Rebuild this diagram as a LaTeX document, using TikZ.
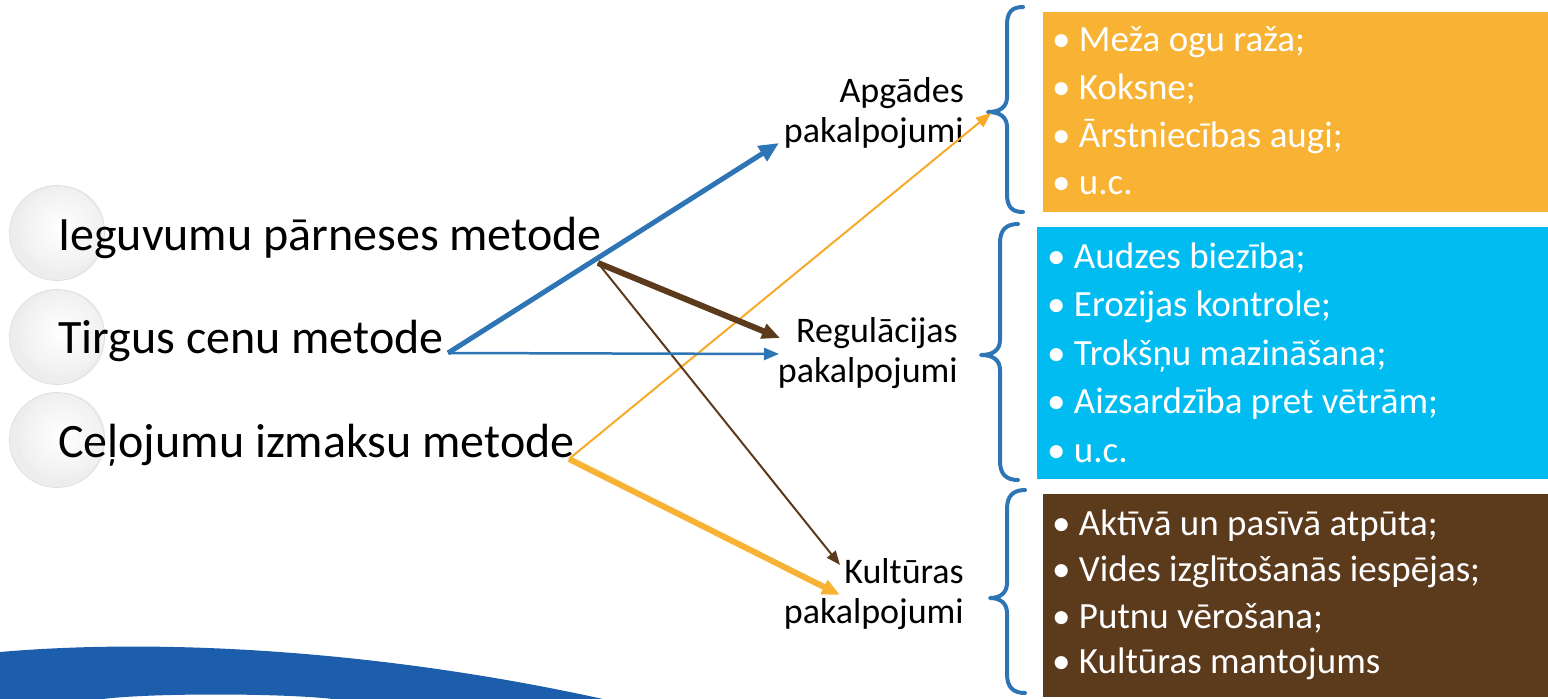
\documentclass[tikz,border=0pt]{standalone}
\usepackage{fontspec}
\setmainfont{Carlito}
\usetikzlibrary{arrows.meta}
\definecolor{arrblue}{RGB}{46,117,182}
\definecolor{bandblue}{RGB}{28,94,171}
\definecolor{boxorange}{RGB}{248,178,52}
\definecolor{lineorange}{RGB}{247,170,40}
\definecolor{boxcyan}{RGB}{0,188,240}
\definecolor{boxbrown}{RGB}{92,58,28}
\begin{document}
\begin{tikzpicture}[x=1pt,y=-1pt,
  lefttext/.style={anchor=base west, inner sep=0, font=\fontsize{48}{56}\selectfont},
  lbl/.style={anchor=base east, inner sep=0, font=\fontsize{36}{40}\selectfont},
  item/.style={anchor=base west, inner sep=0, text=white, font=\fontsize{37}{44}\selectfont},
  listbox/.style={anchor=north west, inner sep=0, draw=none},
  bracestyle/.style={draw=arrblue, line width=4pt, line cap=round, line join=round},
  bluethick/.style={draw=arrblue, line width=5pt, -{Triangle[length=20pt,width=17pt]}},
  bluethin/.style={draw=arrblue, line width=2.5pt, -{Triangle[length=15pt,width=12pt]}},
  brownthick/.style={draw=boxbrown, line width=6pt, -{Triangle[length=18pt,width=15pt]}},
  brownthin/.style={draw=boxbrown, line width=2pt, -{Triangle[length=14pt,width=11pt]}},
  orangethin/.style={draw=lineorange, line width=2pt, -{Triangle[length=15pt,width=12pt]}},
  orangethick/.style={draw=boxorange, line width=6pt, -{Triangle[length=18pt,width=15pt]}}
]
\useasboundingbox (0,0) rectangle (1548,699);

% bottom band
\fill[bandblue] (0,652) .. controls (160,638) and (380,650) .. (603,699)
  -- (333,699) .. controls (280,693) and (150,693) .. (103,699) -- (0,699) -- cycle;

% spheres
\foreach \cy in {233,337,440} {
  \fill[gray!14] (57,\cy) circle (47.5);
  \shade[inner color=white, outer color=gray!12] (62,\cy-4) circle (43);
  \draw[gray!25, line width=0.8pt] (57,\cy) circle (47.5);
}

% method texts
\node[lefttext] (m1) at (58,250) {Ieguvumu pārneses metode};
\node[lefttext] (m2) at (58,353) {Tirgus cenu metode};
\node[lefttext] (m3) at (58,457) {Ceļojumu izmaksu metode};

% service labels
\node[lbl] (a1) at (964,102) {Apgādes};
\node[lbl] (a2) at (964,142) {pakalpojumi};
\node[lbl] (r1) at (958,342) {Regulācijas};
\node[lbl] (r2) at (958,382) {pakalpojumi};
\node[lbl] (k1) at (964,583) {Kultūras};
\node[lbl] (k2) at (964,623) {pakalpojumi};

% boxes
\node[listbox, fill=boxorange, minimum width=505pt, minimum height=200pt] (boxA) at (1043,12) {};
\node[listbox, fill=boxcyan, minimum width=511pt, minimum height=252pt] (boxR) at (1037,227) {};
\node[listbox, fill=boxbrown, minimum width=505pt, minimum height=203pt] (boxK) at (1043,494) {};

% items
\node[item] (oa1) at (1052,51) {\textbullet\ Meža ogu raža;};
\node[item] (oa2) at (1052,99) {\textbullet\ Koksne;};
\node[item] (oa3) at (1052,147) {\textbullet\ Ārstniecības augi;};
\node[item] (oa4) at (1052,194) {\textbullet\ u.c.};

\node[item] (or1) at (1047,268) {\textbullet\ Audzes biezība;};
\node[item] (or2) at (1047,316) {\textbullet\ Erozijas kontrole;};
\node[item] (or3) at (1047,365) {\textbullet\ Trokšņu mazināšana;};
\node[item] (or4) at (1047,413) {\textbullet\ Aizsardzība pret vētrām;};
\node[item] (or5) at (1047,462) {\textbullet\ u.c.};

\node[item] (ok1) at (1052,535) {\textbullet\ Aktīvā un pasīvā atpūta;};
\node[item] (ok2) at (1052,581) {\textbullet\ Vides izglītošanās iespējas;};
\node[item] (ok3) at (1052,628) {\textbullet\ Putnu vērošana;};
\node[item] (ok4) at (1052,673) {\textbullet\ Kultūras mantojums};

% braces
\draw[bracestyle] (1023,7) .. controls (1012,7) and (1007,12) .. (1007,25) -- (1007,97)
  .. controls (1007,107) and (1000,112) .. (988,112)
  .. controls (1000,112) and (1007,117) .. (1007,127) -- (1007,194)
  .. controls (1007,207) and (1012,212) .. (1023,212);
\draw[bracestyle] (1018,224) .. controls (1006,224) and (1000,230) .. (1000,243) -- (1000,340)
  .. controls (1000,350) and (993,355) .. (981,355)
  .. controls (993,355) and (1000,360) .. (1000,370) -- (1000,461)
  .. controls (1000,474) and (1006,480) .. (1018,480);
\draw[bracestyle] (1025,490) .. controls (1013,490) and (1007,496) .. (1007,509) -- (1007,583)
  .. controls (1007,593) and (1000,598) .. (990,598)
  .. controls (1000,598) and (1007,603) .. (1007,613) -- (1007,674)
  .. controls (1007,687) and (1013,693) .. (1025,693);

% connector points
\coordinate (sT) at (448,353);
\coordinate (sI) at (598,263);
\coordinate (sC) at (569,459);
\coordinate (eA1) at (779,143);
\coordinate (eA2) at (991,113);
\coordinate (eR1) at (780,338);
\coordinate (eR2) at (779,354);
\coordinate (eK1) at (840,565);
\coordinate (eK2) at (840,595);

% arrows
\draw[orangethin] (sC) -- (eA2);
\draw[brownthin] (sI) -- (eK1);
\draw[bluethin] (sT) -- (eR2);
\draw[bluethick] (sT) -- (eA1);
\draw[brownthick] (sI) -- (eR1);
\draw[orangethick] (sC) -- (eK2);
\end{tikzpicture}
\end{document}
